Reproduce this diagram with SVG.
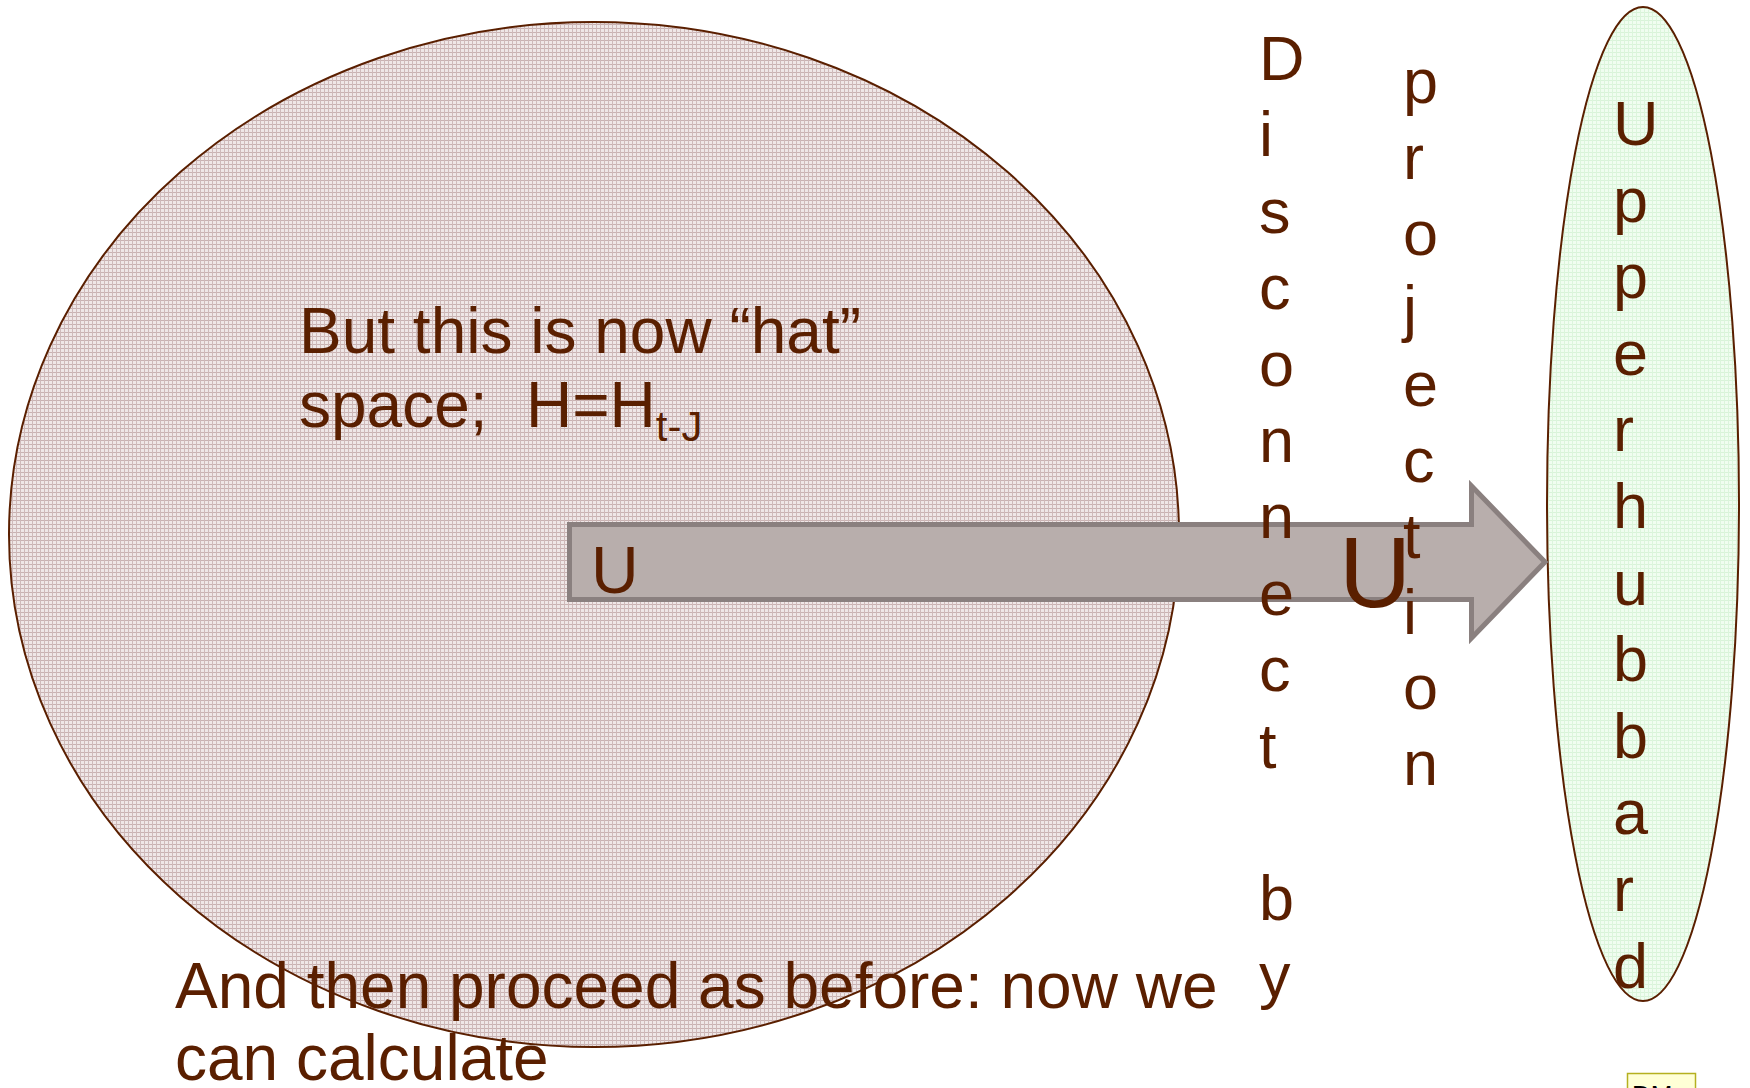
<svg xmlns="http://www.w3.org/2000/svg" width="1750" height="1088" viewBox="0 0 1750 1088">
<style>
.t{font-family:"Liberation Sans",Arial,sans-serif;fill:#5a1f00}
.v{font-size:63px}
.edge{stroke:#5a1f00;stroke-width:2}
</style>
<defs>
<pattern id="pinkGrid" width="4" height="4" patternUnits="userSpaceOnUse">
<rect width="4" height="4" fill="#efe7e7"/>
<rect width="4" height="1" fill="#c9b2b2"/>
<rect width="1" height="4" fill="#cfbaba"/>
</pattern>
<pattern id="greenGrid" width="4" height="4" patternUnits="userSpaceOnUse">
<rect width="4" height="4" fill="#f0fdf0"/>
<rect width="4" height="1" fill="#d9f3d9"/>
<rect width="1" height="4" fill="#dcf5dc"/>
</pattern>
</defs>
<rect width="1750" height="1088" fill="#ffffff"/>
<g id="hat-space">
<ellipse cx="594" cy="534.5" rx="585" ry="512.5" fill="url(#pinkGrid)" class="edge"/>
</g>
<g id="upperhubbard">
<ellipse cx="1643" cy="504" rx="96" ry="497" fill="url(#greenGrid)" class="edge"/>
</g>
<g id="connectors">
<polygon points="569.5,524.5 1471.5,524.5 1471.5,486 1545,562 1471.5,638 1471.5,599.5 569.5,599.5" fill="#b8aeac" stroke="#8a807f" stroke-width="5"/>
</g>
<g id="labels">
<text class="t" x="299" y="353" font-size="64">But this is now “hat”</text>
<text class="t" x="299" y="427" font-size="64">space;<tspan x="526">H=H</tspan><tspan font-size="42" dy="14">t-J</tspan></text>
<text class="t" x="591" y="593" font-size="66">U</text>
<text class="t" x="1339" y="607" font-size="100">U</text>
<text class="t" x="175" y="1008" font-size="64">And then proceed as before: now we</text>
<text class="t" x="175" y="1080" font-size="64">can calculate</text>
</g>
<g id="disconnect-by">
<text class="t v"><tspan x="1259" y="80">D</tspan><tspan x="1259" y="156.4">i</tspan><tspan x="1259" y="232.8">s</tspan><tspan x="1259" y="309.2">c</tspan><tspan x="1259" y="385.6">o</tspan><tspan x="1259" y="462">n</tspan><tspan x="1259" y="538.4">n</tspan><tspan x="1259" y="614.8">e</tspan><tspan x="1259" y="691.2">c</tspan><tspan x="1259" y="767.6">t</tspan><tspan x="1259" y="920.4">b</tspan><tspan x="1259" y="996.8">y</tspan></text>
</g>
<g id="projection">
<text class="t v"><tspan x="1403" y="103">p</tspan><tspan x="1403" y="178.8">r</tspan><tspan x="1403" y="254.6">o</tspan><tspan x="1403" y="330.4">j</tspan><tspan x="1403" y="406.2">e</tspan><tspan x="1403" y="482">c</tspan><tspan x="1403" y="557.8">t</tspan><tspan x="1403" y="633.6">i</tspan><tspan x="1403" y="709.4">o</tspan><tspan x="1403" y="785.2">n</tspan></text>
</g>
<g id="upperhubbard-label">
<text class="t v"><tspan x="1613" y="145">U</tspan><tspan x="1613" y="221.6">p</tspan><tspan x="1613" y="298.2">p</tspan><tspan x="1613" y="374.8">e</tspan><tspan x="1613" y="451.4">r</tspan><tspan x="1613" y="528">h</tspan><tspan x="1613" y="604.6">u</tspan><tspan x="1613" y="681.2">b</tspan><tspan x="1613" y="757.8">b</tspan><tspan x="1613" y="834.4">a</tspan><tspan x="1613" y="911">r</tspan><tspan x="1613" y="987.6">d</tspan></text>
</g>
<g id="comment-marker">
<rect x="1627.5" y="1073.5" width="68" height="30" fill="#ffffd6" stroke="#b5b020" stroke-width="1.5"/>
<text x="1632" y="1104" font-family="Liberation Sans,Arial,sans-serif" font-size="26" fill="#000000">DM</text>
</g>
</svg>
